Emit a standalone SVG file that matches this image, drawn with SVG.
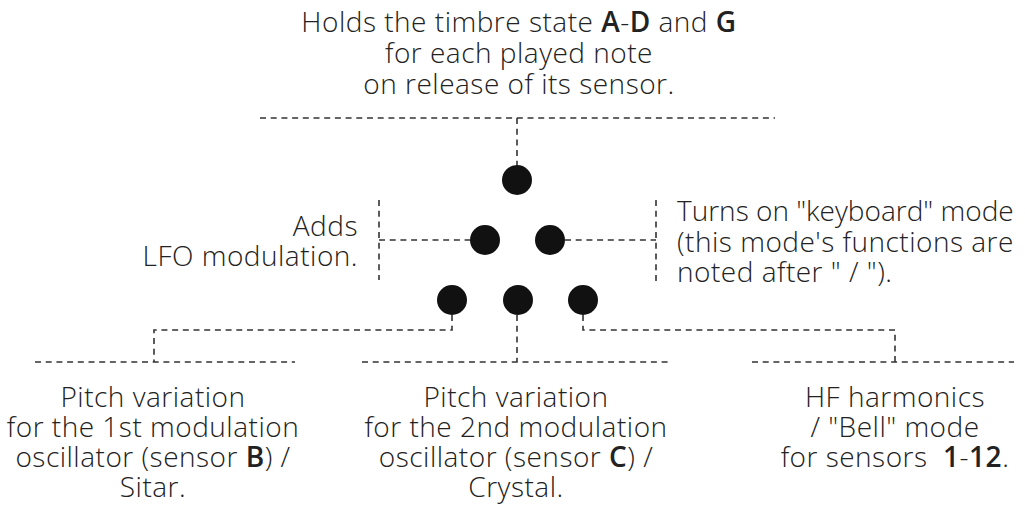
<svg xmlns="http://www.w3.org/2000/svg" width="1025" height="506" viewBox="0 0 1025 506">
<style>
.t{font-family:"Open Sans","Noto Sans","Liberation Sans",sans-serif;font-size:28px;font-weight:300;letter-spacing:0.5px;fill:#222}
.c{text-anchor:middle}
.e{text-anchor:end}
.b{font-weight:600}
.d{fill:#111}
.l{stroke:#333;stroke-width:1.6;stroke-dasharray:6 4.7;fill:none}
</style>
<rect width="1025" height="506" fill="#fff"/>
<g id="connectors">
<path class="l" d="M260 118H775M517 118V165"/>
<path class="l" d="M379 200V280M379 240H470"/>
<path class="l" d="M565 240H656M656 200V283"/>
<path class="l" d="M452 315V330H154V362M35 362H295"/>
<path class="l" d="M517 315V362M362 362H672"/>
<path class="l" d="M583 315V330H895V362M752 362H1014"/>
</g>
<g id="dot-top"><circle class="d" cx="517" cy="180" r="15"/></g>
<g id="dot-mid-left"><circle class="d" cx="485" cy="240" r="15"/></g>
<g id="dot-mid-right"><circle class="d" cx="550" cy="240" r="15"/></g>
<g id="dot-bot-left"><circle class="d" cx="452" cy="300" r="15"/></g>
<g id="dot-bot-center"><circle class="d" cx="518" cy="300" r="15"/></g>
<g id="dot-bot-right"><circle class="d" cx="583" cy="300" r="15"/></g>
<g id="label-top">
<text class="t c" x="519" y="32">Holds the timbre state <tspan class="b">A</tspan>-<tspan class="b">D</tspan> and <tspan class="b">G</tspan></text>
<text class="t c" x="519" y="63">for each played note</text>
<text class="t c" x="519" y="94">on release of its sensor.</text>
</g>
<g id="label-lfo">
<text class="t e" x="358" y="236">Adds</text>
<text class="t e" x="358" y="266">LFO modulation.</text>
</g>
<g id="label-keyboard">
<text class="t" x="677" y="221" style="letter-spacing:0">Turns on "keyboard" mode</text>
<text class="t" x="677" y="252">(this mode's functions are</text>
<text class="t" x="677" y="282">noted after " / ").</text>
</g>
<g id="label-pitch1">
<text class="t c" x="153" y="407">Pitch variation</text>
<text class="t c" x="153" y="437">for the 1st modulation</text>
<text class="t c" x="153" y="467">oscillator (sensor <tspan class="b">B</tspan>) /</text>
<text class="t c" x="153" y="497">Sitar.</text>
</g>
<g id="label-pitch2">
<text class="t c" x="516" y="407">Pitch variation</text>
<text class="t c" x="516" y="437">for the 2nd modulation</text>
<text class="t c" x="516" y="467">oscillator (sensor <tspan class="b">C</tspan>) /</text>
<text class="t c" x="516" y="497">Crystal.</text>
</g>
<g id="label-hf">
<text class="t c" x="895" y="407">HF harmonics</text>
<text class="t c" x="895" y="437">/ "Bell" mode</text>
<text class="t c" x="895" y="467" style="white-space:pre">for sensors  <tspan class="b">1</tspan>-<tspan class="b">12</tspan>.</text>
</g>
</svg>
